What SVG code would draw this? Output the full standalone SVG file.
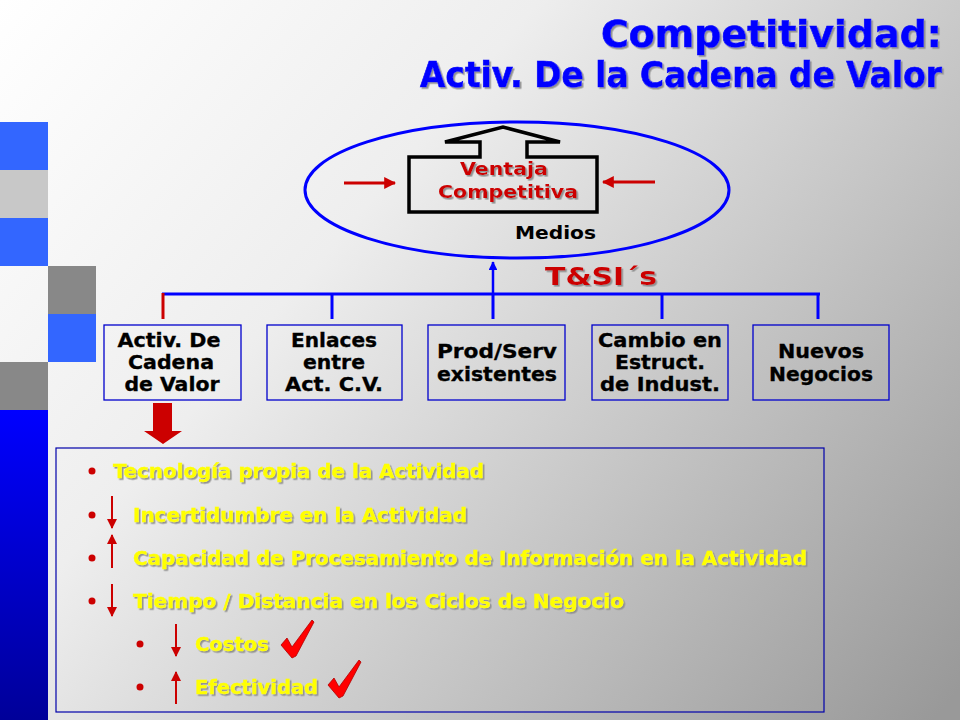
<svg xmlns="http://www.w3.org/2000/svg" width="960" height="720" viewBox="0 0 960 720">
<defs>
<linearGradient id="bg" gradientUnits="userSpaceOnUse" x1="0" y1="0" x2="900" y2="760">
<stop offset="0" stop-color="#ffffff"/>
<stop offset="0.35" stop-color="#eeeeee"/>
<stop offset="1" stop-color="#999999"/>
</linearGradient>
<linearGradient id="blueBar" x1="0" y1="0" x2="0" y2="1">
<stop offset="0" stop-color="#0000ff"/>
<stop offset="1" stop-color="#000099"/>
</linearGradient>
<filter id="sh" x="-5%" y="-20%" width="110%" height="150%">
<feDropShadow dx="1.6" dy="1.6" stdDeviation="0.4" flood-color="#909090" flood-opacity="1"/>
</filter>
<marker id="ah" viewBox="0 0 10 10" refX="9" refY="5" markerWidth="4" markerHeight="4" orient="auto" markerUnits="strokeWidth">
<path d="M0,0 L10,5 L0,10 z" fill="#cc0000"/>
</marker>
<marker id="ahs" viewBox="0 0 10 10" refX="9" refY="5" markerWidth="5" markerHeight="5" orient="auto" markerUnits="strokeWidth">
<path d="M0,0 L10,5 L0,10 z" fill="#cc0000"/>
</marker>
<marker id="ahb" viewBox="0 0 10 10" refX="9" refY="5" markerWidth="3.5" markerHeight="3.5" orient="auto" markerUnits="strokeWidth">
<path d="M0,0 L10,5 L0,10 z" fill="#0000ff"/>
</marker>
<path id="check" d="M281,645 L287,638 L292,647 L312,620 L314,622 L296,656 L292,658 Z"/>
</defs>
<style>
.t{font-family:"DejaVu Sans Condensed","DejaVu Sans","Verdana",sans-serif;font-weight:bold;font-stretch:condensed}
.title{fill:#0000ff;stroke:#0000ff;stroke-width:0.6;filter:url(#sh)}
.box{fill:none;stroke:#0000cc;stroke-width:1.3}
.bt{fill:#000000;stroke:#000000;stroke-width:0.3;font-size:20px;text-anchor:middle}
.yl{fill:#ffff00;stroke:#ffff00;stroke-width:0.4;font-size:20px;filter:url(#sh)}
.red{fill:#cc0000}
.bl{stroke:#0000ff;stroke-width:3;fill:none}
.sa{stroke:#cc0000;stroke-width:2;fill:none}
</style>
<rect x="0" y="0" width="960" height="720" fill="url(#bg)"/>

<g id="decor">
<rect x="0" y="122" width="48" height="48" fill="#3366ff"/>
<rect x="0" y="170" width="48" height="48" fill="#c8c8c8"/>
<rect x="0" y="218" width="48" height="48" fill="#3366ff"/>
<rect x="48" y="266" width="48" height="48" fill="#888888"/>
<rect x="48" y="314" width="48" height="48" fill="#3366ff"/>
<rect x="0" y="362" width="48" height="48" fill="#888888"/>
<rect x="0" y="410" width="48" height="310" fill="url(#blueBar)"/>
</g>

<g id="title">
<text class="t title" x="942" y="47" font-size="38" text-anchor="end" textLength="341" lengthAdjust="spacingAndGlyphs">Competitividad:</text>
<text class="t title" x="942" y="87" font-size="35" text-anchor="end" textLength="522" lengthAdjust="spacingAndGlyphs">Activ. De la Cadena de Valor</text>
</g>

<g id="medios">
<ellipse cx="517" cy="190" rx="212" ry="68" fill="none" stroke="#0000ff" stroke-width="3"/>
<path d="M409,157 L480,157 L480,142 L445,142 L503,127 L560,142 L527,142 L527,157 L597,157 L597,212 L409,212 Z" fill="none" stroke="#000000" stroke-width="3.5" stroke-linejoin="miter"/>
<text class="t red" x="504" y="175" font-size="18" text-anchor="middle" filter="url(#sh)" textLength="88" lengthAdjust="spacingAndGlyphs">Ventaja</text>
<text class="t red" x="508" y="198" font-size="18" text-anchor="middle" filter="url(#sh)" textLength="140" lengthAdjust="spacingAndGlyphs">Competitiva</text>
<text class="t" x="515" y="239" font-size="18" fill="#000" textLength="81" lengthAdjust="spacingAndGlyphs">Medios</text>
<line x1="344" y1="183" x2="395" y2="183" stroke="#cc0000" stroke-width="3" marker-end="url(#ah)"/>
<line x1="655" y1="182" x2="603" y2="182" stroke="#cc0000" stroke-width="3" marker-end="url(#ah)"/>
</g>

<g id="tsi">
<text class="t red" x="545" y="285" font-size="24" filter="url(#sh)" textLength="112" lengthAdjust="spacingAndGlyphs">T&amp;SI´s</text>
</g>

<g id="connectors">
<line class="bl" x1="162" y1="294" x2="820" y2="294"/>
<line x1="163" y1="293" x2="163" y2="319" stroke="#cc0000" stroke-width="3"/>
<line class="bl" x1="332" y1="294" x2="332" y2="319"/>
<line class="bl" x1="493" y1="294" x2="493" y2="319"/>
<line class="bl" x1="662" y1="294" x2="662" y2="319"/>
<line class="bl" x1="818" y1="294" x2="818" y2="319"/>
<line x1="493" y1="295" x2="493" y2="262" stroke="#0000ff" stroke-width="2.5" marker-end="url(#ahb)"/>
<path d="M153,403 L172,403 L172,431 L182,431 L163,444 L144,431 L153,431 Z" fill="#cc0000"/>
</g>

<g id="box1">
<rect class="box" x="104" y="325" width="137" height="75"/>
<text class="t bt" x="169" y="347" textLength="103" lengthAdjust="spacingAndGlyphs">Activ. De</text>
<text class="t bt" x="171" y="369" textLength="86" lengthAdjust="spacingAndGlyphs">Cadena</text>
<text class="t bt" x="172" y="391" textLength="95" lengthAdjust="spacingAndGlyphs">de Valor</text>
</g>
<g id="box2">
<rect class="box" x="267" y="325" width="135" height="75"/>
<text class="t bt" x="334" y="347" textLength="86" lengthAdjust="spacingAndGlyphs">Enlaces</text>
<text class="t bt" x="334" y="369" textLength="62" lengthAdjust="spacingAndGlyphs">entre</text>
<text class="t bt" x="334" y="391" textLength="98" lengthAdjust="spacingAndGlyphs">Act. C.V.</text>
</g>
<g id="box3">
<rect class="box" x="428" y="325" width="137" height="75"/>
<text class="t bt" x="497" y="358" textLength="120" lengthAdjust="spacingAndGlyphs">Prod/Serv</text>
<text class="t bt" x="497" y="381" textLength="120" lengthAdjust="spacingAndGlyphs">existentes</text>
</g>
<g id="box4">
<rect class="box" x="592" y="325" width="136" height="75"/>
<text class="t bt" x="660" y="347" textLength="124" lengthAdjust="spacingAndGlyphs">Cambio en</text>
<text class="t bt" x="660" y="369" textLength="90" lengthAdjust="spacingAndGlyphs">Estruct.</text>
<text class="t bt" x="660" y="391" textLength="120" lengthAdjust="spacingAndGlyphs">de Indust.</text>
</g>
<g id="box5">
<rect class="box" x="753" y="325" width="136" height="75"/>
<text class="t bt" x="821" y="358" textLength="86" lengthAdjust="spacingAndGlyphs">Nuevos</text>
<text class="t bt" x="821" y="381" textLength="104" lengthAdjust="spacingAndGlyphs">Negocios</text>
</g>

<g id="detail">
<rect x="56" y="448" width="768" height="264" fill="none" stroke="#0000aa" stroke-width="1.2"/>
<circle class="red" cx="92" cy="471" r="3.5"/>
<circle class="red" cx="92" cy="515" r="3.5"/>
<circle class="red" cx="92" cy="558" r="3.5"/>
<circle class="red" cx="92" cy="601" r="3.5"/>
<circle class="red" cx="140" cy="644" r="3.5"/>
<circle class="red" cx="140" cy="687" r="3.5"/>
<line class="sa" x1="112" y1="496" x2="112" y2="528" marker-end="url(#ahs)"/>
<line class="sa" x1="112" y1="568" x2="112" y2="535" marker-end="url(#ahs)"/>
<line class="sa" x1="112" y1="584" x2="112" y2="616" marker-end="url(#ahs)"/>
<line class="sa" x1="176" y1="624" x2="176" y2="656" marker-end="url(#ahs)"/>
<line class="sa" x1="176" y1="704" x2="176" y2="672" marker-end="url(#ahs)"/>
<text class="t yl" x="113" y="478" textLength="371" lengthAdjust="spacingAndGlyphs">Tecnología propia de la Actividad</text>
<text class="t yl" x="133" y="522" textLength="334" lengthAdjust="spacingAndGlyphs">Incertidumbre en la Actividad</text>
<text class="t yl" x="133" y="565" textLength="674" lengthAdjust="spacingAndGlyphs">Capacidad de Procesamiento de Información en la Actividad</text>
<text class="t yl" x="133" y="608" textLength="491" lengthAdjust="spacingAndGlyphs">Tiempo / Distancia en los Ciclos de Negocio</text>
<text class="t yl" x="195" y="651" textLength="74" lengthAdjust="spacingAndGlyphs">Costos</text>
<text class="t yl" x="195" y="694" textLength="123" lengthAdjust="spacingAndGlyphs">Efectividad</text>
<use href="#check" fill="#ff0000" stroke="#b00000" stroke-width="0.8"/>
<use href="#check" transform="translate(47,40)" fill="#ff0000" stroke="#b00000" stroke-width="0.8"/>
</g>
</svg>
